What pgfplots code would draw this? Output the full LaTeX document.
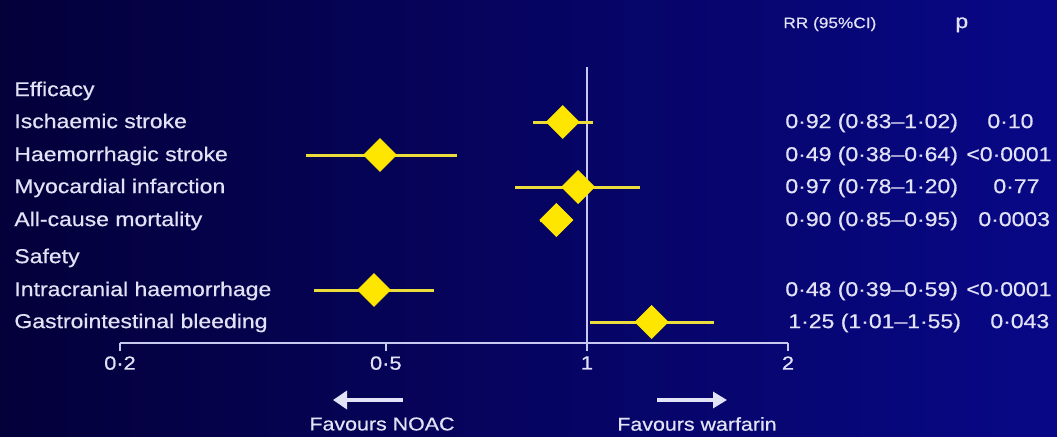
\documentclass[border=0pt]{standalone}
\usepackage{fontspec}
\setmainfont{Liberation Sans}[FakeStretch=1.15,FakeBold=0.6]
\usepackage{pgfplots}
\pgfplotsset{compat=1.18}
\usetikzlibrary{arrows.meta}
\definecolor{bgL}{RGB}{4,0,58}
\definecolor{bgR}{RGB}{8,8,135}
\definecolor{txt}{RGB}{226,226,246}
\definecolor{axc}{RGB}{200,200,240}
\definecolor{yel}{RGB}{255,230,0}
\definecolor{ci}{RGB}{235,222,60}
\begin{document}
\begin{tikzpicture}
\clip (0pt,0pt) rectangle (528.5pt,218pt);
\shade[left color=bgL,right color=bgR] (0pt,0pt) rectangle (528.5pt,218pt);
\begin{scope}[x=0.5pt,y=0.5pt,
  lab/.style={anchor=west,text=txt,font=\fontsize{10}{12}\selectfont,inner sep=0pt,text height=1.45ex,text depth=.3ex}]
% row labels
\node[lab] at (14,{436-90}) {Efficacy};
\node[lab] at (14,{436-122}) {Ischaemic stroke};
\node[lab] at (14,{436-155}) {Haemorrhagic stroke};
\node[lab] at (14,{436-187}) {Myocardial infarction};
\node[lab] at (14,{436-220}) {All-cause mortality};
\node[lab] at (14,{436-257}) {Safety};
\node[lab] at (14,{436-290}) {Intracranial haemorrhage};
\node[lab] at (14,{436-322}) {Gastrointestinal bleeding};
% right columns
\node[lab,font=\fontsize{7.5}{9}\selectfont] at (783,{436-22}) {RR (95\%CI)};
\node[lab] at (955,{436-22}) {p};
\node[lab] at (785,{436-122}) {0·92 (0·83–1·02)};
\node[lab] at (785,{436-155}) {0·49 (0·38–0·64)};
\node[lab] at (785,{436-187}) {0·97 (0·78–1·20)};
\node[lab] at (785,{436-220}) {0·90 (0·85–0·95)};
\node[lab] at (785,{436-290}) {0·48 (0·39–0·59)};
\node[lab] at (788,{436-322}) {1·25 (1·01–1·55)};
\node[lab] at (987,{436-122}) {0·10};
\node[lab] at (966,{436-155}) {<0·0001};
\node[lab] at (993,{436-187}) {0·77};
\node[lab] at (978,{436-220}) {0·0003};
\node[lab] at (966,{436-290}) {<0·0001};
\node[lab] at (990,{436-322}) {0·043};
% arrows
\draw[axc!50!white,line width=2.2pt,-{Triangle[width=9pt,length=7pt]}] (403,36) -- (333,36);
\draw[axc!50!white,line width=1.6pt,-{Triangle[width=8pt,length=7pt]}] (657,36) -- (727,36);
\node[text=txt,font=\fontsize{9.3}{11}\selectfont,inner sep=0pt] at (382,12) {Favours NOAC};
\node[text=txt,font=\fontsize{9.3}{11}\selectfont,inner sep=0pt] at (697,12) {Favours warfarin};
\end{scope}
\begin{axis}[
  at={(60pt,46.5pt)}, anchor=south west,
  scale only axis, width=334pt, height=138pt,
  xmode=log, xmin=0.2, xmax=2,
  ymin=-343, ymax=-67,
  clip=false,
  hide y axis,
  axis x line*=bottom,
  x axis line style={axc,line width=1pt,-},
  xtick={0.2,0.5,1,2},
  xticklabels={0·2,0·5,1,2},
  minor xtick={},
  tick align=outside,
  major tick length=4pt,
  xtick style={axc,line width=1pt},
  xticklabel style={text=txt,font=\fontsize{9.5}{11}\selectfont,inner sep=1pt,yshift=-1.5pt},
]
\addplot[axc,line width=1pt] coordinates {(1,-343) (1,-67)};
% CIs
\addplot[ci,line width=1.5pt] coordinates {(0.83,-122) (1.02,-122)};
\addplot[ci,line width=1.5pt] coordinates {(0.38,-155) (0.64,-155)};
\addplot[ci,line width=1.5pt] coordinates {(0.78,-187) (1.20,-187)};
\addplot[ci,line width=1.5pt] coordinates {(0.85,-220) (0.95,-220)};
\addplot[ci,line width=1.5pt] coordinates {(0.39,-290) (0.59,-290)};
\addplot[ci,line width=1.5pt] coordinates {(1.01,-322) (1.55,-322)};
% point estimates
\addplot[only marks, mark=square*, mark size=5.8pt,
  mark options={rotate=45,fill=yel,draw=yel}]
  coordinates {(0.92,-122) (0.49,-155) (0.97,-187) (0.90,-220) (0.48,-290) (1.25,-322)};
\end{axis}
\end{tikzpicture}
\end{document}
